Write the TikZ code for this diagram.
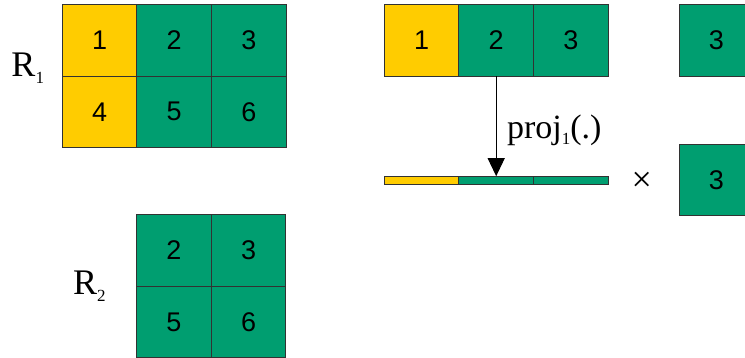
\documentclass[tikz,border=0pt]{standalone}
\usepackage{fontspec}
\setmainfont{Liberation Serif}
\newfontfamily\cellfont{Liberation Sans}
\usetikzlibrary{arrows.meta}
\definecolor{cyel}{RGB}{255,204,0}
\definecolor{cgrn}{RGB}{0,158,112}
\definecolor{cline}{RGB}{50,50,50}
\tikzset{
  cell/.style={draw=cline, line width=0.9pt, minimum width=74.6pt, minimum height=71.4pt,
    inner sep=0pt, outer sep=0pt, font=\cellfont\fontsize{27}{30}\selectfont},
  ycell/.style={cell, fill=cyel},
  gcell/.style={cell, fill=cgrn},
  barcell/.style={draw=cline, line width=0.9pt, minimum width=74.6pt, minimum height=8pt,
    inner sep=0pt, outer sep=0pt},
  lbl/.style={inner sep=0pt, outer sep=0pt, anchor=base west, font=\fontsize{36}{40}\selectfont},
  arr/.style={line width=0.9pt, -{Triangle[length=18pt,width=17pt]}}
}
\begin{document}
\begin{tikzpicture}[x=1pt,y=-1pt]
\useasboundingbox (0,0) rectangle (745,358);
\clip (0,0) rectangle (745,358);
% R1 table
\node[ycell] (a1) at (99.6,40.4) {1};
\node[gcell] (a2) at (174.2,40.4) {2};
\node[gcell] (a3) at (248.8,40.4) {3};
\node[ycell] (a4) at (99.6,111.8) {4};
\node[gcell] (a5) at (174.2,111.8) {5};
\node[gcell] (a6) at (248.8,111.8) {6};
\node[lbl] (r1) at (11.5,76.7) {R\raisebox{-6.5pt}{\fontsize{17}{20}\selectfont 1}};
% R2 table
\node[gcell] (b2) at (174,250.5) {2};
\node[gcell] (b3) at (248.6,250.5) {3};
\node[gcell] (b5) at (174,322) {5};
\node[gcell] (b6) at (248.6,322) {6};
\node[lbl] (r2) at (73,295) {R\raisebox{-6.5pt}{\fontsize{17}{20}\selectfont 2}};
% top-right row
\node[ycell] (c1) at (421.6,40.4) {1};
\node[gcell] (c2) at (496.2,40.4) {2};
\node[gcell] (c3) at (570.8,40.4) {3};
\node[gcell] (d1) at (716.5,40.4) {3};
% projected bar
\node[barcell, fill=cyel] (p1) at (421.6,180.2) {};
\node[barcell, fill=cgrn] (p2) at (496.2,180.2) {};
\node[barcell, fill=cgrn] (p3) at (570.8,180.2) {};
\draw[arr] (c2.south) -- (p2.north);
\node[lbl, font=\fontsize{34}{38}\selectfont] (pj) at (507,139)
  {proj\raisebox{-6pt}{\fontsize{17}{20}\selectfont 1}(.)};
\node[inner sep=0pt, font=\fontsize{36}{38}\selectfont] (x) at (641.7,181.7) {×};
\node[gcell] (d2) at (716.5,180.2) {3};
\end{tikzpicture}
\end{document}
